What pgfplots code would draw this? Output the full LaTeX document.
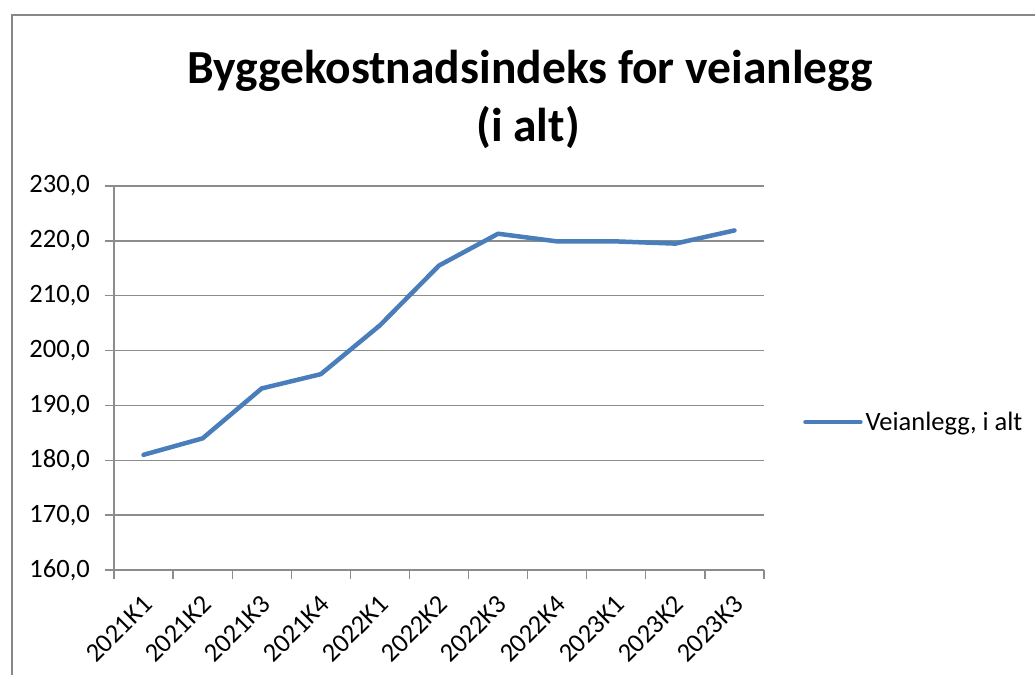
\documentclass[border=0pt]{standalone}
\usepackage{fontspec}
\setmainfont{Carlito}
\usepackage{pgfplots}
\pgfplotsset{compat=1.18}

\definecolor{serieblue}{RGB}{74,126,187}
\definecolor{gridgray}{RGB}{140,140,140}
\definecolor{framegray}{RGB}{136,136,136}

\newcommand{\tickfont}{\fontsize{26.5}{31}\selectfont}
\newcommand{\titlefont}{\fontsize{47.5}{56}\selectfont\bfseries}

\begin{document}
\begin{tikzpicture}[x=1pt,y=1pt]
% page is 1035 x 675 "pixels"
\path[use as bounding box] (0,0) rectangle (1035,675);
% outer chart frame (cut off on right and bottom)
\draw[framegray, line width=2pt] (12,0) -- (12,660) -- (1035,660);

\node[anchor=base, font=\titlefont] at (530,591) {Byggekostnadsindeks for veianlegg};
\node[anchor=base, font=\titlefont] at (528,533) {(i alt)};

\begin{axis}[
    at={(114pt,105pt)}, anchor=south west,
    scale only axis,
    width=650pt, height=384pt,
    xmin=-0.5, xmax=10.5,
    ymin=160, ymax=230,
    ytick={160,170,...,230},
    xtick={0,...,10},
    xticklabels={2021K1,2021K2,2021K3,2021K4,2022K1,2022K2,2022K3,2022K4,2023K1,2023K2,2023K3},
    extra x ticks={-0.5,0.5,...,10.5},
    extra x tick labels={},
    extra x tick style={xtick style={draw=gridgray, line width=1.3pt}},
    xtick style={draw=none},
    ytick style={draw=gridgray, line width=1.3pt},
    tick align=outside,
    major tick length=9pt,
    axis x line*=bottom,
    axis y line*=left,
    axis line style={draw=gridgray, line width=1.3pt, -},
    ymajorgrids,
    grid style={draw=gridgray, line width=1.3pt},
    ticklabel style={font=\tickfont},
    yticklabel style={anchor=east, inner sep=0pt, xshift=-15pt},
    % shifts act in the rotated frame
    xticklabel style={rotate=45, anchor=north east, inner sep=0pt, xshift=-12pt, yshift=-9pt},
    /pgf/number format/.cd, fixed, fixed zerofill, precision=1, use comma, assume math mode=true,
    /pgfplots/.cd,
    legend style={at={(1.06,0.385)}, anchor=west, draw=none, fill=none,
        font=\tickfont, inner sep=0pt, column sep=1pt},
    legend image code/.code={\draw[#1] (0pt,0pt) -- (55pt,0pt);},
]
\addplot[serieblue, line width=4.5pt, line join=round, line cap=round] coordinates {
    (0,181.0) (1,184.0) (2,193.1) (3,195.7) (4,204.6) (5,215.5)
    (6,221.3) (7,219.9) (8,219.9) (9,219.5) (10,221.9)
};
\addlegendentry{Veianlegg, i alt}
\end{axis}
\end{tikzpicture}
\end{document}
